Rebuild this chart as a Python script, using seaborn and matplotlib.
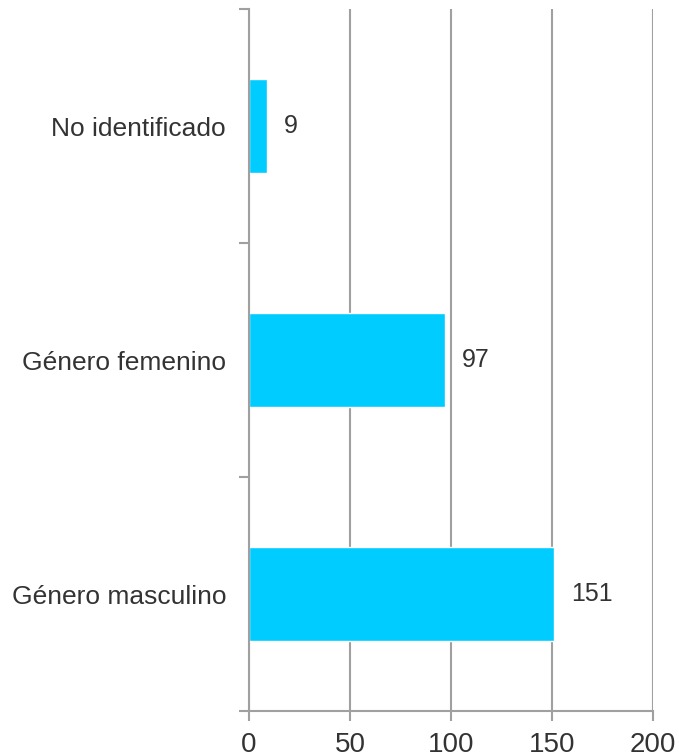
import matplotlib
matplotlib.use("Agg")
import matplotlib.pyplot as plt
import seaborn as sns
import pandas as pd

categorias = ['No identificado', 'Género femenino', 'Género masculino']
valores = [9, 97, 151]
ticks_x = [0, 50, 100, 150, 200]

df = pd.DataFrame({'Categoria': categorias, 'Total': valores})

sns.set_theme(style="white")
plt.rcParams['font.family'] = ['Liberation Sans', 'DejaVu Sans']

gris = '#a0a0a0'
texto = '#333333'

fig = plt.figure(figsize=(6.79, 7.54), dpi=100)
ax = fig.add_axes([249 / 679, (754 - 711) / 754, (653 - 249) / 679, (711 - 9) / 754])

sns.barplot(data=df, y='Categoria', x='Total', orient='h', color='#00ccff',
            saturation=1, width=0.4, ax=ax)

ax.set_xlim(0, 200)
ax.set_ylim(2.5, -0.5)
ax.set_xticks(ticks_x)
ax.set_xticklabels([str(t) for t in ticks_x])
ax.xaxis.grid(True, color=gris, linewidth=1.5)
ax.set_axisbelow(True)

# marcas del eje y entre categorias
ax.set_yticks([0, 1, 2])
ax.set_yticks([-0.5, 0.5, 1.5, 2.5], minor=True)
ax.tick_params(axis='y', which='major', length=0, pad=16.5, labelsize=19, labelcolor=texto)
ax.tick_params(axis='y', which='minor', length=7, width=1.5, color=gris, left=True)
ax.tick_params(axis='x', length=7, width=1.5, color=gris, bottom=True, pad=8,
               labelsize=20, labelcolor=texto)

for lado in ['top', 'right']:
    ax.spines[lado].set_visible(False)
for lado in ['left', 'bottom']:
    ax.spines[lado].set_color(gris)
    ax.spines[lado].set_linewidth(1.5)

ax.set_xlabel('')
ax.set_ylabel('')

ax.bar_label(ax.containers[0], padding=12, fontsize=18, color=texto)

fig.savefig('out.png', dpi=100)
